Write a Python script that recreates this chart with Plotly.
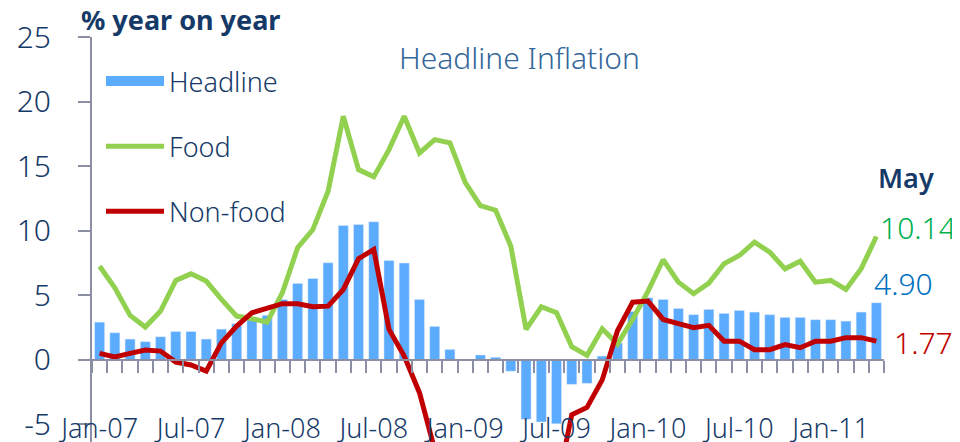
import plotly.graph_objects as go
import pandas as pd

months = list(pd.date_range("2007-01-01", periods=52, freq="MS").strftime("%b-%y"))
tick_labels = ["Jan-07", "Jul-07", "Jan-08", "Jul-08", "Jan-09", "Jul-09", "Jan-10", "Jul-10", "Jan-11"]
y_ticks = [-5, 0, 5, 10, 15, 20, 25]
y_tick_text = ["-5", "0", "5", "10", "15", "20", "25"]

headline = [2.92, 2.10, 1.61, 1.41, 1.79, 2.20, 2.20, 1.61, 2.38, 2.80, 3.20, 3.45,
            4.68, 5.92, 6.30, 7.52, 10.40, 10.48, 10.69, 7.70, 7.50, 4.68, 2.59, 0.81,
            0.00, 0.38, 0.20, -0.88, -4.60, -4.81, -4.95, -1.90, -1.82, 0.29, 1.30, 3.75,
            4.81, 4.68, 3.98, 3.50, 3.91, 3.60, 3.83, 3.70, 3.50, 3.29, 3.29, 3.11,
            3.11, 3.00, 3.70, 4.42]
food = [7.25, 5.58, 3.44, 2.54, 3.78, 6.15, 6.66, 6.10, 4.68, 3.39, 3.19, 2.92,
        5.20, 8.68, 10.09, 13.06, 18.86, 14.73, 14.17, 16.28, 18.86, 16.02, 17.05, 16.80,
        13.75, 11.95, 11.59, 8.80, 2.36, 4.11, 3.65, 1.02, 0.35, 2.41, 1.22, 3.15,
        5.30, 7.75, 6.02, 5.12, 5.94, 7.44, 8.08, 9.11, 8.34, 7.05, 7.64, 6.02,
        6.15, 5.45, 7.05, 9.55]
nonfood = [0.50, 0.22, 0.50, 0.76, 0.68, -0.17, -0.40, -0.87, 1.33, 2.61, 3.65, 3.98,
           4.35, 4.35, 4.11, 4.16, 5.45, 7.83, 8.55, 2.36, 0.29, -2.54, -6.95, -9.5,
           -11.0, -12.0, -12.5, -13.0, -14.0, -13.0, -10.0, -4.25, -3.68, -1.55, 2.25, 4.47,
           4.55, 3.13, 2.80, 2.49, 2.67, 1.45, 1.45, 0.79, 0.79, 1.18, 0.94, 1.45,
           1.45, 1.72, 1.72, 1.45]

latest_month = "May"
latest_food = "10.14"
latest_headline = "4.90"
latest_nonfood = "1.77"

FONT = "Noto Sans"
NAVY = "#163a68"
AXIS = "#8c8fa3"
BAR = "#5babff"
GREEN = "#92d050"
RED = "#c00000"

# page body adds an 8px offset; figure is sized to fill the rest of the window
OFF = 8
FIG_W, FIG_H = 960 - OFF, 442 - OFF
# plot area in screenshot pixels
L, R, T, B = 92, 884, 37, 442
W, H = R - L, B - T

def px(xp):
    return (xp - L) / W

def py(yp):
    return (B - yp) / H

fig = go.Figure()
fig.add_trace(go.Bar(x=months, y=headline, name="Headline", marker_color=BAR,
                     xaxis="x", yaxis="y", showlegend=False))
fig.add_trace(go.Scatter(x=[None], y=[None], name="Headline", mode="lines",
                         line=dict(color=BAR, width=22), xaxis="x2", yaxis="y",
                         legendgroup="a", hoverinfo="skip"))
fig.add_trace(go.Scatter(x=months, y=food, name="Food", mode="lines",
                         line=dict(color=GREEN, width=5), xaxis="x2", yaxis="y",
                         legendgroup="b"))
fig.add_trace(go.Scatter(x=months, y=nonfood, name="Non-food", mode="lines",
                         line=dict(color=RED, width=5), xaxis="x2", yaxis="y",
                         legendgroup="c"))

ymin, ymax = -6.36, 25
zero_pos = (0 - ymin) / (ymax - ymin)
light = dict(family=FONT, weight=300)

fig.update_layout(
    width=FIG_W, height=FIG_H,
    margin=dict(l=L - OFF, r=FIG_W - (R - OFF), t=T - OFF, b=FIG_H - (B - OFF),
                autoexpand=False),
    paper_bgcolor="white", plot_bgcolor="white",
    bargap=0.34,
    font=dict(family=FONT, color=NAVY),
    xaxis=dict(type="category", categoryarray=months, range=[-0.5, 51.5],
               anchor="free", position=zero_pos, automargin=False,
               showline=True, linecolor=AXIS, linewidth=2,
               ticks="outside", ticklen=12, tickwidth=2, tickcolor=AXIS,
               tickson="boundaries", tickmode="linear", tick0=0, dtick=1,
               showticklabels=False, showgrid=False, zeroline=False),
    xaxis2=dict(type="category", categoryarray=months, range=[-0.5, 51.5],
                overlaying="x", anchor="free", position=py(410), side="bottom",
                automargin=False, ticklabeloverflow="allow",
                showline=False, ticks="", tickmode="array",
                tickvals=tick_labels, ticktext=tick_labels,
                tickfont=dict(size=27, color=NAVY, **light),
                showgrid=False, zeroline=False),
    yaxis=dict(range=[ymin, ymax], tickmode="array", tickvals=y_ticks,
               ticktext=y_tick_text,
               automargin=False, ticklabeloverflow="allow",
               showline=True, linecolor=AXIS, linewidth=2,
               ticks="outside", ticklen=12, tickwidth=2, tickcolor=AXIS,
               ticklabelstandoff=21,
               tickfont=dict(size=30, color=NAVY, **light),
               showgrid=False, zeroline=False),
    legend=dict(x=px(101), y=py(57), xanchor="left", yanchor="top",
                font=dict(size=27, color=NAVY, **light),
                itemwidth=58, tracegroupgap=27, bgcolor="rgba(0,0,0,0)"),
    showlegend=True,
)

def note(text, xp, yp, size, color, xanchor="center", weight=300):
    fig.add_annotation(text=text, xref="paper", yref="paper", x=px(xp), y=py(yp),
                       xanchor=xanchor, yanchor="middle", showarrow=False,
                       font=dict(size=size, color=color, family=FONT, weight=weight))

note("Headline Inflation", 519, 57, 30, "#336699")
note("% year on year", 79, 20, 27, NAVY, xanchor="left", weight=700)
note(latest_month, 906, 178, 27, NAVY, weight=600)
note(latest_food, 958, 227, 30, "#00b050", xanchor="right")
note(latest_headline, 903, 283, 30, "#0070c0")
note(latest_nonfood, 955, 342, 30, RED, xanchor="right")

fig.write_html("out.html")
